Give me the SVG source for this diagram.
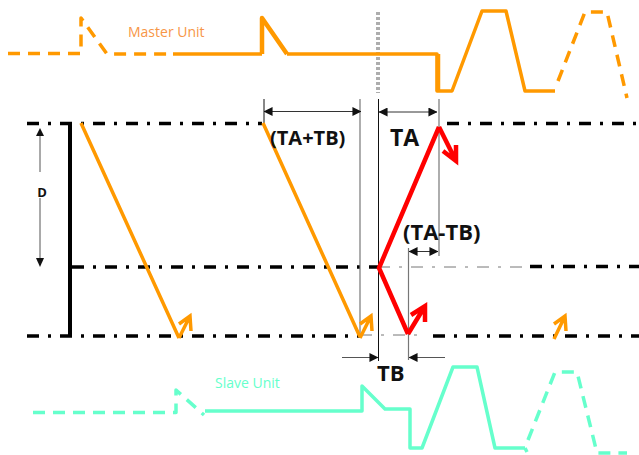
<svg xmlns="http://www.w3.org/2000/svg" width="639" height="455" viewBox="0 0 639 455">
<style>
text{font-family:"Open Sans","Noto Sans","Liberation Sans",sans-serif}
.b{font-weight:700;fill:#111}
.m,.s,.dd,.td,.v,.g,.a,.r,.o{fill:none}
.m{stroke:#FF9900;stroke-width:3.500;stroke-linejoin:round}
.s{stroke:#66FFCC;stroke-width:3.500;stroke-linejoin:round}
.d{stroke-dasharray:12 8}
.dd{stroke:#000;stroke-width:3.500;stroke-dasharray:12 9 3 9}
.td{stroke:#777;stroke-width:1;stroke-dasharray:12 9 3 9}
.v{stroke:#111;stroke-width:1}
.g{stroke:#777;stroke-width:1.200}
.a{stroke:#333;stroke-width:1;marker-start:url(#h);marker-end:url(#h)}
.r{stroke:#FF0000;stroke-width:4.500;stroke-linejoin:miter}
.o{stroke:#FF9900;stroke-width:3.500}
.tip{fill:#111;stroke:none}
</style>
<defs>
<marker id="h" viewBox="0 0 10 10" refX="9.500" refY="5" markerUnits="userSpaceOnUse" markerWidth="9" markerHeight="9" orient="auto-start-reverse"><path class="tip" d="M0 0L10 5L0 10Z"/></marker>
</defs>
<g id="connectors">
<line class="dd" x1="27" y1="123.500" x2="262" y2="123.500"/>
<line class="dd" x1="447" y1="123.500" x2="636" y2="123.500"/>
<line class="dd" x1="72" y1="267" x2="378" y2="267"/>
<line class="td" x1="378" y1="267" x2="530" y2="267"/>
<line class="dd" x1="530" y1="266.500" x2="639" y2="266.500"/>
<line class="dd" x1="27" y1="336" x2="360" y2="336"/>
<line class="td" x1="360" y1="335" x2="425" y2="335"/>
<line class="dd" x1="433" y1="336" x2="639" y2="336"/>
<path d="M70 123V336" stroke="#000" stroke-width="4" fill="none"/>
<line x1="40" y1="134" x2="40" y2="172" stroke="#555"/>
<path class="tip" d="M40 128L36 136H44Z"/>
<line x1="40" y1="198" x2="40" y2="260" stroke="#555"/>
<path class="tip" d="M40 267L36 258H44Z"/>
<line class="v" x1="264" y1="99" x2="264" y2="124"/>
<line class="g" x1="360" y1="99" x2="360" y2="338"/>
<line class="v" x1="378.500" y1="99" x2="378.500" y2="361"/>
<line class="g" x1="439" y1="99" x2="439" y2="256"/>
<line class="g" x1="408.500" y1="248" x2="408.500" y2="360"/>
<line x1="377" y1="12" x2="377" y2="93" stroke="#333" stroke-width="0.800" stroke-dasharray="3 2"/>
<line x1="379" y1="12" x2="379" y2="93" stroke="#333" stroke-width="0.800" stroke-dasharray="3 2"/>
<line class="a" x1="264" y1="111.500" x2="361" y2="111.500"/>
<line class="a" x1="379" y1="112" x2="437" y2="112"/>
<line class="a" x1="409" y1="251.500" x2="438" y2="251.500"/>
<line x1="342" y1="357.500" x2="378" y2="357.500" stroke="#555" marker-end="url(#h)"/>
<line x1="445" y1="357.500" x2="409" y2="357.500" stroke="#555" marker-end="url(#h)"/>
<path class="o" d="M81 123L179 338M179 338L190 316M179 324L190 316L191 331"/>
<path class="o" d="M263 123L360 337M360 338L371 316M360 324L371 316L372 331"/>
<path class="o" d="M554 339L565 316M554 324L565 316L566 331"/>
<path class="r" d="M439 127L379 268L408 334"/>
<path class="r" d="M408 334L425 306M411 315L425 306L425 322"/>
<path class="r" d="M439 127L456 161M443 151L456 161L456 145"/>
</g>
<g id="master-unit">
<path class="m d" d="M8 53.500H81V18L107 54H172"/>
<path class="m" d="M173 54H262"/>
<path class="m" d="M287 54H437V91H452L482 11H506L525 91H555"/>
<path class="m" style="stroke-width:4.500" d="M262 54V18L287 54M438 54V91"/>
<path class="m d" d="M558 81L585 12H607L627 98"/>
<text x="128" y="37" font-size="14" fill="#F79646">Master Unit</text>
</g>
<g id="slave-unit">
<path class="s d" d="M33 412.500H176V390L204 415"/>
<path class="s" d="M205 411H362V386L385 409H410V448H422L453 367H477L495 448H525"/>
<path class="s d" d="M525 448L527 452M528 440L555 372H577L597 453H627"/>
<text x="215" y="388" font-size="14" fill="#66FFCC">Slave Unit</text>
</g>
<g id="labels">
<text class="b" x="42" y="197" font-size="13" text-anchor="middle">D</text>
<text class="b" x="270" y="145" font-size="20">(TA+TB)</text>
<text class="b" x="390" y="146" font-size="23">TA</text>
<text class="b" x="403" y="240" font-size="22">(TA-TB)</text>
<text class="b" x="377" y="381" font-size="22">TB</text>
</g>
</svg>
